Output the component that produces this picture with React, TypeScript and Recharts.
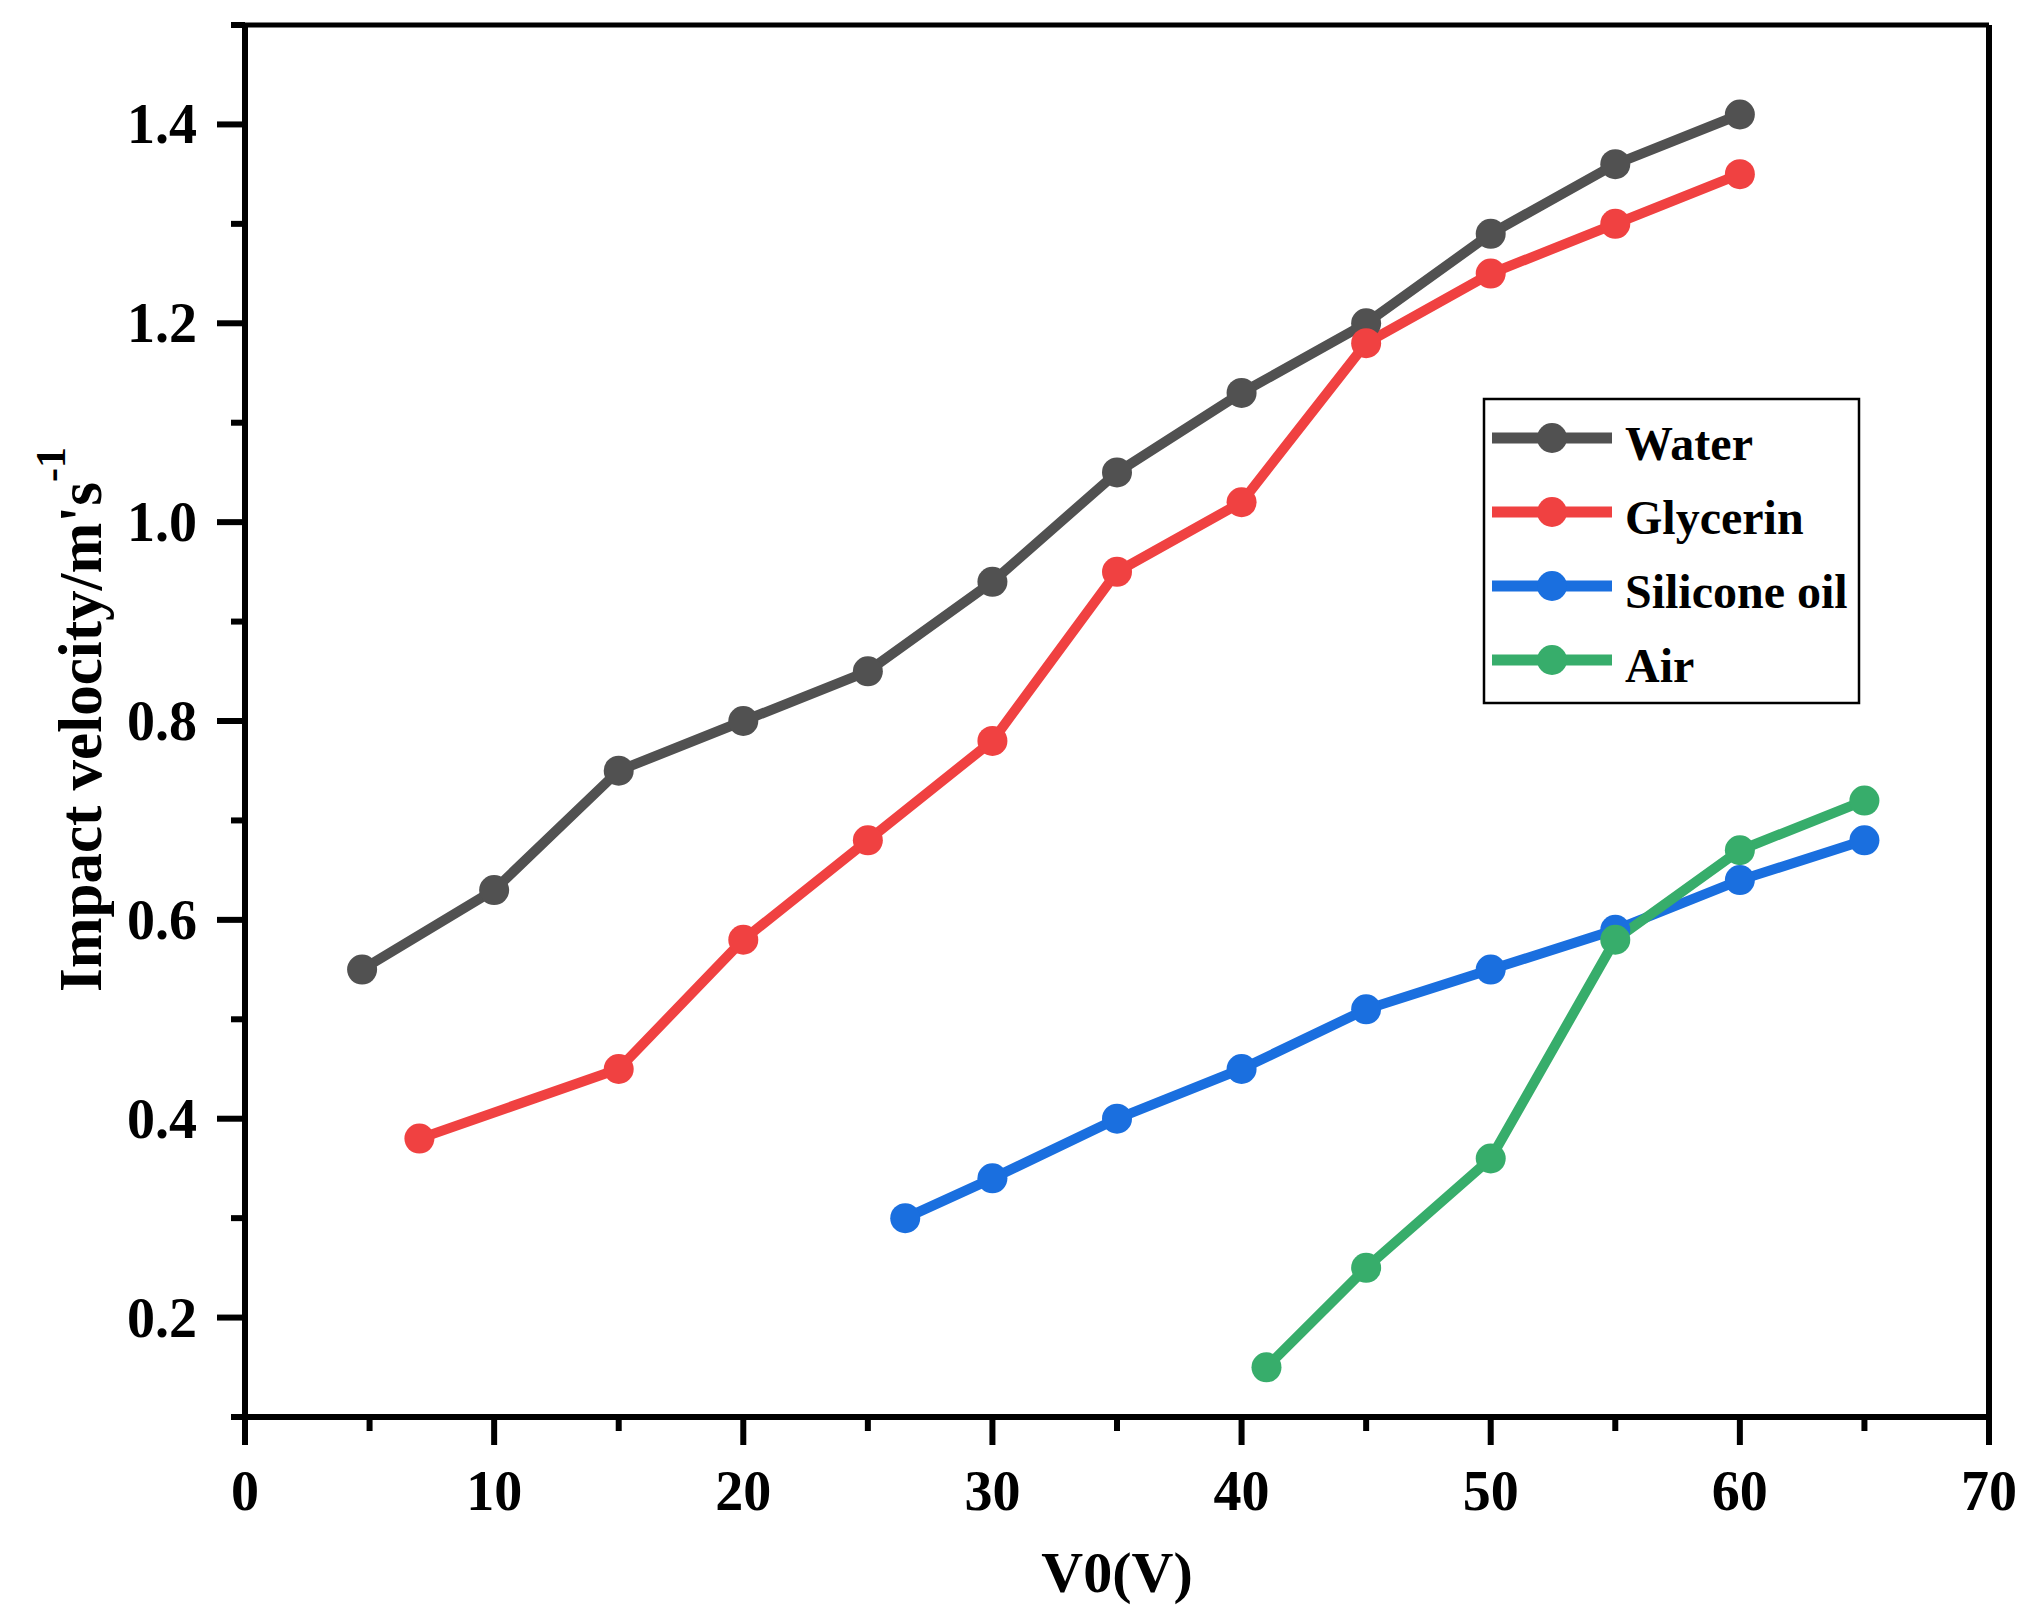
import { Line, LineChart, ReferenceLine, XAxis, YAxis } from 'recharts';

// Series values (x = V0 in volts, y = impact velocity in m/s)
const waterX = [4.7, 10, 15, 20, 25, 30, 35, 40, 45, 50, 55, 60];
const waterY = [0.55, 0.63, 0.75, 0.8, 0.85, 0.94, 1.05, 1.13, 1.2, 1.29, 1.36, 1.41];
const glycerinX = [7, 15, 20, 25, 30, 35, 40, 45, 50, 55, 60];
const glycerinY = [0.38, 0.45, 0.58, 0.68, 0.78, 0.95, 1.02, 1.18, 1.25, 1.3, 1.35];
const siliconeX = [26.5, 30, 35, 40, 45, 50, 55, 60, 65];
const siliconeY = [0.3, 0.34, 0.4, 0.45, 0.51, 0.55, 0.59, 0.64, 0.68];
const airX = [41, 45, 50, 55, 60, 65];
const airY = [0.15, 0.25, 0.36, 0.58, 0.67, 0.72];

// Axis ticks: labelled majors and unlabelled minors
const xMajorTicks = [0, 10, 20, 30, 40, 50, 60, 70];
const xMinorTicks = [5, 15, 25, 35, 45, 55, 65];
const yMajorTicks = [0.2, 0.4, 0.6, 0.8, 1.0, 1.2, 1.4];
const yMinorTicks = [0.1, 0.3, 0.5, 0.7, 0.9, 1.1, 1.3, 1.5];

const xTitle = 'V0(V)';
const yTitle = "Impact velocity/m's";
const yTitleSup = '-1';

const FONT = '"Liberation Serif", "Times New Roman", serif';
const W = 2030;
const H = 1619;

const zip = (xs: number[], ys: number[]) => xs.map((x, i) => ({ x, y: ys[i] }));

const series = [
  { name: 'Water', color: '#515151', data: zip(waterX, waterY) },
  { name: 'Glycerin', color: '#F04141', data: zip(glycerinX, glycerinY) },
  { name: 'Silicone oil', color: '#1A6FDF', data: zip(siliconeX, siliconeY) },
  { name: 'Air', color: '#37AD6B', data: zip(airX, airY) },
];

const isMajor = (list: number[], v: number) => list.some((t) => Math.abs(t - v) < 1e-9);

function XTick({ x, y, payload }: any) {
  const major = isMajor(xMajorTicks, payload.value);
  return (
    <g>
      <line x1={x} x2={x} y1={y} y2={y + (major ? 28 : 14)} stroke="#000" strokeWidth={6} />
      {major && (
        <text x={x} y={y + 93} textAnchor="middle" fontFamily={FONT} fontWeight="bold" fontSize={56} fill="#000">
          {payload.value}
        </text>
      )}
    </g>
  );
}

function YTick({ x, y, payload }: any) {
  const major = isMajor(yMajorTicks, payload.value);
  return (
    <g>
      <line x1={x} x2={x - (major ? 28 : 14)} y1={y} y2={y} stroke="#000" strokeWidth={6} />
      {major && (
        <text x={x - 48} y={y + 19} textAnchor="end" fontFamily={FONT} fontWeight="bold" fontSize={56} fill="#000">
          {payload.value.toFixed(1)}
        </text>
      )}
    </g>
  );
}

function XTitle({ viewBox }: any) {
  return (
    <text x={viewBox.x + viewBox.width / 2} y={1592} textAnchor="middle" fontFamily={FONT} fontWeight="bold" fontSize={58} fill="#000">
      {xTitle}
    </text>
  );
}

function YTitle() {
  const x = 101;
  const y = 992;
  return (
    <text x={x} y={y} transform={`rotate(-90, ${x}, ${y})`} fontFamily={FONT} fontWeight="bold" fontSize={61} fill="#000">
      {yTitle}
      <tspan dy={-36} fontSize={42}>
        {yTitleSup}
      </tspan>
    </text>
  );
}

function LegendBox() {
  const rowGap = 74;
  return (
    <svg width={379} height={308} style={{ position: 'absolute', left: 1482, top: 397 }}>
      <rect x={2} y={2} width={375} height={304} fill="#fff" stroke="#000" strokeWidth={2.5} />
      {series.map((s, i) => {
        const cy = 41 + i * rowGap;
        return (
          <g key={s.name}>
            <line x1={10} x2={130} y1={cy} y2={cy} stroke={s.color} strokeWidth={11} />
            <circle cx={70} cy={cy} r={15} fill={s.color} />
            <text x={143} y={cy + 22} fontFamily={FONT} fontWeight="bold" fontSize={48} fill="#000">
              {s.name}
            </text>
          </g>
        );
      })}
    </svg>
  );
}

export default function App() {
  const xTicks = [...xMajorTicks, ...xMinorTicks].sort((a, b) => a - b);
  const yTicks = [...yMajorTicks, ...yMinorTicks].sort((a, b) => a - b);
  return (
    <div style={{ position: 'absolute', left: 0, top: 0, width: W, height: H, background: '#fff' }}>
      <LineChart width={W} height={H} margin={{ top: 25, right: 41, left: 0, bottom: 0 }}>
        <XAxis
          dataKey="x"
          type="number"
          domain={[0, 70]}
          ticks={xTicks}
          interval={0}
          allowDataOverflow
          height={202}
          tickSize={0}
          tickMargin={0}
          tickLine={false}
          axisLine={{ stroke: '#000', strokeWidth: 6 }}
          tick={<XTick />}
          label={<XTitle />}
        />
        <YAxis
          type="number"
          domain={[0.1, 1.5]}
          ticks={yTicks}
          interval={0}
          allowDataOverflow
          width={245}
          tickSize={0}
          tickMargin={0}
          tickLine={false}
          axisLine={{ stroke: '#000', strokeWidth: 6 }}
          tick={<YTick />}
          label={<YTitle />}
        />
        <ReferenceLine y={1.5} stroke="#000" strokeWidth={5} ifOverflow="visible" />
        <ReferenceLine x={70} stroke="#000" strokeWidth={6} ifOverflow="visible" />
        {series.map((s) => (
          <Line
            key={s.name}
            data={s.data}
            dataKey="y"
            name={s.name}
            type="linear"
            stroke={s.color}
            strokeWidth={10}
            dot={{ r: 15, fill: s.color, stroke: s.color, strokeWidth: 0 }}
            activeDot={false}
            isAnimationActive={false}
          />
        ))}
      </LineChart>
      <LegendBox />
    </div>
  );
}
